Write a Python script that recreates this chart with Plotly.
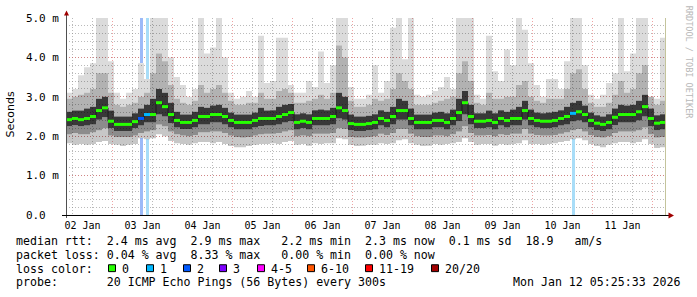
import pandas as pd
import plotly.graph_objects as go

# ---------------- data ----------------
START = "2026-01-02 05:25:33"
END = "2026-01-12 05:25:33"
BIN_SECONDS = 8640  # 100 bins of 2.4 h

median_ms = [2.42, 2.45, 2.42, 2.45, 2.50, 2.65, 2.72, 2.38, 2.30, 2.30,
             2.30, 2.37, 2.45, 2.55, 2.55, 2.85, 2.75, 2.55, 2.40, 2.35,
             2.35, 2.40, 2.50, 2.50, 2.55, 2.55, 2.50, 2.40, 2.35, 2.35,
             2.35, 2.40, 2.45, 2.45, 2.45, 2.50, 2.55, 2.60, 2.35, 2.38,
             2.35, 2.45, 2.45, 2.45, 2.50, 2.72, 2.65, 2.32, 2.30, 2.30,
             2.32, 2.35, 2.45, 2.40, 2.50, 2.65, 2.65, 2.45, 2.35, 2.35,
             2.35, 2.40, 2.40, 2.35, 2.45, 2.60, 2.85, 2.50, 2.38, 2.38,
             2.40, 2.35, 2.45, 2.40, 2.45, 2.45, 2.65, 2.45, 2.40, 2.38,
             2.38, 2.40, 2.45, 2.50, 2.58, 2.62, 2.55, 2.40, 2.33, 2.30,
             2.35, 2.48, 2.55, 2.55, 2.55, 2.62, 2.75, 2.45, 2.33, 2.35]

smoke_max_ms = [3.10, 3.20, 3.55, 3.75, 3.85, 5.00, 5.00, 3.90, 3.10, 2.95,
                3.10, 3.20, 3.85, 3.45, 5.00, 5.00, 5.00, 4.00, 3.50, 3.30,
                3.00, 3.20, 5.00, 4.10, 4.25, 5.00, 4.00, 3.10, 2.95, 3.00,
                3.15, 3.00, 4.55, 3.35, 3.40, 4.50, 4.50, 3.30, 3.10, 3.10,
                3.40, 3.25, 4.15, 3.35, 3.80, 5.00, 5.00, 3.25, 2.95, 2.95,
                3.05, 3.80, 3.10, 3.40, 4.75, 5.00, 3.95, 5.00, 3.05, 3.00,
                3.05, 3.15, 3.25, 3.50, 3.20, 5.00, 5.00, 5.00, 3.05, 2.95,
                4.55, 3.65, 3.40, 4.20, 3.80, 5.00, 4.70, 3.85, 3.30, 3.00,
                3.45, 3.45, 3.20, 3.90, 5.00, 5.00, 3.80, 3.05, 2.95, 3.05,
                3.35, 3.60, 5.00, 3.65, 4.10, 5.00, 5.00, 3.00, 2.95, 4.50]

p90_ms = [2.95, 3.00, 3.05, 3.10, 3.20, 3.60, 3.60, 3.10, 2.80, 2.75,
          2.80, 2.85, 3.00, 3.10, 3.60, 4.10, 3.90, 3.30, 2.95, 2.85,
          2.80, 2.90, 3.30, 3.10, 3.20, 3.30, 3.10, 2.90, 2.80, 2.80,
          2.85, 2.85, 3.10, 2.95, 2.95, 3.15, 3.20, 3.10, 2.85, 2.85,
          2.90, 2.95, 3.05, 2.95, 3.10, 4.30, 4.00, 2.90, 2.75, 2.75,
          2.80, 2.95, 2.90, 2.95, 3.20, 3.60, 3.40, 3.20, 2.80, 2.80,
          2.80, 2.85, 2.90, 2.95, 3.00, 3.60, 3.90, 3.40, 2.85, 2.80,
          3.10, 2.95, 2.95, 3.00, 3.00, 3.30, 3.40, 3.00, 2.90, 2.85,
          2.95, 2.95, 2.95, 3.20, 3.60, 3.70, 3.20, 2.85, 2.75, 2.75,
          2.85, 3.05, 3.40, 3.10, 3.20, 3.60, 3.80, 3.00, 2.80, 2.90]

p70_ms = [2.62, 2.65, 2.65, 2.70, 2.75, 2.95, 3.00, 2.65, 2.50, 2.50,
          2.50, 2.58, 2.70, 2.80, 2.95, 3.20, 3.10, 2.85, 2.62, 2.55,
          2.55, 2.62, 2.75, 2.72, 2.78, 2.80, 2.72, 2.60, 2.55, 2.55,
          2.55, 2.60, 2.72, 2.65, 2.66, 2.75, 2.80, 2.82, 2.56, 2.58,
          2.56, 2.66, 2.68, 2.66, 2.72, 3.10, 3.00, 2.55, 2.50, 2.50,
          2.52, 2.56, 2.66, 2.62, 2.75, 2.95, 2.90, 2.70, 2.55, 2.55,
          2.55, 2.60, 2.62, 2.58, 2.68, 2.95, 3.15, 2.80, 2.58, 2.58,
          2.65, 2.58, 2.66, 2.62, 2.68, 2.75, 2.90, 2.68, 2.60, 2.58,
          2.60, 2.62, 2.66, 2.75, 2.85, 2.90, 2.78, 2.60, 2.53, 2.50,
          2.56, 2.70, 2.80, 2.78, 2.80, 2.90, 3.05, 2.70, 2.53, 2.56]

p30_ms = [2.25, 2.28, 2.25, 2.27, 2.30, 2.42, 2.48, 2.20, 2.13, 2.13,
          2.13, 2.20, 2.27, 2.35, 2.35, 2.55, 2.50, 2.33, 2.22, 2.18,
          2.18, 2.22, 2.30, 2.30, 2.35, 2.35, 2.30, 2.22, 2.17, 2.17,
          2.17, 2.22, 2.26, 2.27, 2.27, 2.30, 2.35, 2.38, 2.17, 2.20,
          2.17, 2.27, 2.27, 2.27, 2.30, 2.45, 2.42, 2.15, 2.13, 2.13,
          2.15, 2.17, 2.27, 2.22, 2.30, 2.42, 2.42, 2.27, 2.17, 2.17,
          2.17, 2.22, 2.22, 2.17, 2.27, 2.38, 2.55, 2.30, 2.20, 2.20,
          2.22, 2.17, 2.27, 2.22, 2.27, 2.27, 2.42, 2.27, 2.22, 2.20,
          2.20, 2.22, 2.27, 2.30, 2.37, 2.40, 2.35, 2.22, 2.15, 2.13,
          2.17, 2.28, 2.35, 2.35, 2.35, 2.40, 2.50, 2.25, 2.15, 2.17]

p10_ms = [2.05, 2.08, 2.05, 2.05, 2.10, 2.15, 2.20, 2.02, 1.98, 1.98,
          1.98, 2.02, 2.08, 2.12, 2.15, 2.30, 2.25, 2.12, 2.05, 2.02,
          2.00, 2.03, 2.10, 2.10, 2.12, 2.12, 2.08, 2.02, 1.98, 1.97,
          1.98, 2.02, 2.05, 2.06, 2.06, 2.08, 2.12, 2.15, 2.00, 2.02,
          2.00, 2.06, 2.06, 2.06, 2.08, 2.20, 2.18, 1.98, 1.97, 1.97,
          1.98, 2.00, 2.06, 2.03, 2.08, 2.18, 2.18, 2.06, 2.00, 1.98,
          1.98, 2.02, 2.02, 2.00, 2.05, 2.12, 2.25, 2.08, 2.02, 2.02,
          2.03, 2.00, 2.05, 2.03, 2.06, 2.06, 2.18, 2.06, 2.03, 2.02,
          2.02, 2.03, 2.06, 2.10, 2.15, 2.18, 2.12, 2.03, 1.98, 1.97,
          2.00, 2.08, 2.12, 2.12, 2.12, 2.15, 2.22, 2.05, 1.97, 1.98]

smoke_min_ms = [1.82, 1.78, 1.80, 1.78, 1.80, 1.85, 1.88, 1.80, 1.78, 1.75,
                1.78, 1.80, 1.95, 1.92, 1.95, 2.05, 2.00, 1.88, 1.82, 1.80,
                1.78, 1.82, 1.85, 1.85, 1.82, 1.85, 1.80, 1.75, 1.72, 1.72,
                1.75, 1.78, 1.80, 1.80, 1.82, 1.80, 1.85, 1.88, 1.78, 1.80,
                1.76, 1.82, 1.80, 1.82, 1.82, 1.95, 1.92, 1.78, 1.75, 1.76,
                1.78, 1.78, 1.82, 1.80, 1.82, 1.90, 1.92, 1.82, 1.78, 1.75,
                1.76, 1.80, 1.78, 1.80, 1.82, 1.85, 1.95, 1.85, 1.78, 1.80,
                1.80, 1.76, 1.80, 1.78, 1.80, 1.82, 1.90, 1.80, 1.80, 1.78,
                1.80, 1.82, 1.85, 1.88, 1.92, 1.95, 1.90, 1.80, 1.75, 1.72,
                1.78, 1.82, 1.85, 1.85, 1.82, 1.85, 1.92, 1.80, 1.70, 1.72]

loss_count = [0, 0, 0, 0, 0, 0, 0, 0, 0, 0,
              0, 0, 2, 1, 0, 0, 0, 0, 0, 0,
              0, 0, 0, 0, 0, 0, 0, 0, 0, 0,
              0, 0, 0, 0, 0, 0, 0, 0, 0, 0,
              0, 0, 0, 0, 0, 0, 0, 0, 0, 0,
              0, 0, 0, 0, 0, 0, 0, 0, 0, 0,
              0, 0, 0, 0, 0, 0, 0, 0, 0, 0,
              0, 0, 0, 0, 0, 0, 0, 0, 0, 0,
              0, 0, 0, 0, 1, 0, 0, 0, 0, 0,
              0, 0, 0, 0, 0, 0, 0, 0, 0, 0]

day_labels = ["02 Jan", "03 Jan", "04 Jan", "05 Jan", "06 Jan",
              "07 Jan", "08 Jan", "09 Jan", "10 Jan", "11 Jan"]
day_noons = ["2026-01-02 12:00", "2026-01-03 12:00", "2026-01-04 12:00", "2026-01-05 12:00",
             "2026-01-06 12:00", "2026-01-07 12:00", "2026-01-08 12:00", "2026-01-09 12:00",
             "2026-01-10 12:00", "2026-01-11 12:00"]
y_tick_vals = [0, 1, 2, 3, 4, 5]
y_tick_text = ["0.0  ", "1.0 m", "2.0 m", "3.0 m", "4.0 m", "5.0 m"]

loss_labels = ["0", "1", "2", "3", "4-5", "6-10", "11-19", "20/20"]
loss_colors = ["#26ff00", "#00b8ff", "#0059ff", "#7e00ff", "#ff00ff", "#ff5500", "#ff0000", "#a10000"]
loss_bar_colors = {1: "#a8ddf8", 2: "#9cbaf8"}

stats_line1 = "median rtt:  2.4 ms avg  2.9 ms max   2.2 ms min  2.3 ms now  0.1 ms sd  18.9   am/s"
stats_line2 = "packet loss: 0.04 % avg  8.33 % max   0.00 % min  0.00 % now"
probe_line = "probe:       20 ICMP Echo Pings (56 Bytes) every 300s"
stamp_text = "Mon Jan 12 05:25:33 2026"
side_text = "RRDTOOL / TOBI OETIKER"

# ---------------- geometry helpers (pixels -> paper) ----------------
PL, PT, PW, PH = 66, 15, 600, 200
def px(x):
    return (x - PL) / PW
def py(y):
    return (PT + PH - y) / PH
def nb(s):
    return s.replace(" ", "\u00a0")

MONO = "DejaVu Sans Mono"
edges = pd.date_range(START, periods=len(median_ms) + 1, freq=f"{BIN_SECONDS}s")
centers = edges[:-1] + pd.Timedelta(seconds=BIN_SECONDS / 2)
Y_TOP = y_tick_vals[-1]

def step(vals):
    return list(vals) + [vals[-1]]

fig = go.Figure()

# loss bars (drawn outside the smoke)
bx, blo, bhi_base, bhi_h, bcol = [], [], [], [], []
for i, n in enumerate(loss_count):
    if n > 0:
        bx.append(centers[i])
        blo.append(smoke_min_ms[i])
        bhi_base.append(smoke_max_ms[i])
        bhi_h.append(Y_TOP - smoke_max_ms[i])
        bcol.append(loss_bar_colors.get(n, loss_colors[min(n, 7)]))
bar_w = 72 * 60 * 1000
fig.add_trace(go.Bar(x=bx, y=blo, base=0, width=bar_w, marker=dict(color=bcol, line=dict(width=0)),
                     showlegend=False, hoverinfo="skip"))
fig.add_trace(go.Bar(x=bx, y=bhi_h, base=bhi_base, width=bar_w, marker=dict(color=bcol, line=dict(width=0)),
                     showlegend=False, hoverinfo="skip"))

# smoke bands
bounds = [smoke_min_ms, p10_ms, p30_ms, p70_ms, p90_ms, smoke_max_ms]
alphas = [0.22, 0.45, 0.78, 0.30, 0.14]
fig.add_trace(go.Scatter(x=edges, y=step(bounds[0]), mode="lines", line=dict(width=0, shape="hv"),
                         showlegend=False, hoverinfo="skip"))
for b, a in zip(bounds[1:], alphas):
    fig.add_trace(go.Scatter(x=edges, y=step(b), mode="lines", line=dict(width=0, shape="hv"),
                             fill="tonexty", fillcolor=f"rgba(0,0,0,{a})",
                             showlegend=False, hoverinfo="skip"))

# median: dark step connector + loss-coloured segments
fig.add_trace(go.Scatter(x=edges, y=step(median_ms), mode="lines",
                         line=dict(width=1, shape="hv", color="#1a1a1a"),
                         showlegend=False, hoverinfo="skip"))
def loss_idx(n):
    if n <= 3:
        return n
    if n <= 5:
        return 4
    if n <= 10:
        return 5
    if n <= 19:
        return 6
    return 7
seg = {}
for i, m in enumerate(median_ms):
    k = loss_idx(loss_count[i])
    xs, ys = seg.setdefault(k, ([], []))
    xs += [edges[i], edges[i + 1], None]
    ys += [m, m, None]
for k, (xs, ys) in seg.items():
    fig.add_trace(go.Scatter(x=xs, y=ys, mode="lines", line=dict(width=3, color=loss_colors[k]),
                             showlegend=False, hoverinfo="skip", connectgaps=False))

# dummy for label axis
fig.add_trace(go.Scatter(x=[edges[0]], y=[0], xaxis="x2", mode="markers",
                         marker=dict(opacity=0, size=1), showlegend=False, hoverinfo="skip"))

GRID = "rgba(140,140,140,0.6)"
MGRID = "rgba(225,90,90,0.55)"
DASH = "1px,2px"

fig.update_layout(
    width=697, height=297,
    margin=dict(l=PL, r=697 - PL - PW, t=PT, b=297 - PT - PH),
    paper_bgcolor="white", plot_bgcolor="white",
    barmode="overlay", bargap=0,
    xaxis=dict(type="date", range=[START, END], tickmode="linear", tick0="2026-01-03",
               dtick=86400000, showticklabels=False, ticks="", showgrid=True,
               gridcolor=MGRID, griddash=DASH, gridwidth=1, zeroline=False, showline=False,
               minor=dict(tick0="2026-01-02 08:00", dtick=8 * 3600000, showgrid=True,
                          gridcolor=GRID, griddash=DASH, gridwidth=1)),
    xaxis2=dict(type="date", overlaying="x", matches="x", anchor="y", side="bottom",
                tickmode="array", tickvals=day_noons, ticktext=day_labels, showgrid=False,
                ticks="", zeroline=False, showline=False, ticklabelstandoff=3,
                tickfont=dict(family=MONO, size=10, color="black")),
    yaxis=dict(range=[0, Y_TOP], tickmode="array", tickvals=y_tick_vals,
               ticktext=[nb(t) for t in y_tick_text], showgrid=True, gridcolor=MGRID,
               griddash=DASH, gridwidth=1, zeroline=False, showline=False, ticks="",
               ticklabelstandoff=6, tickfont=dict(family=MONO, size=11, color="black"),
               minor=dict(tick0=0, dtick=0.2, showgrid=True, gridcolor=GRID, griddash=DASH,
                          gridwidth=1)),
    showlegend=False,
)

shapes = []
# axes, arrows and right marker
shapes.append(dict(type="line", xref="paper", yref="paper", x0=px(66.5), x1=px(66.5),
                   y0=py(218), y1=py(10), line=dict(color="#505050", width=1), layer="above"))
shapes.append(dict(type="line", xref="paper", yref="paper", x0=px(62), x1=px(669),
                   y0=py(215.5), y1=py(215.5), line=dict(color="#000000", width=1), layer="above"))
shapes.append(dict(type="path", xref="paper", yref="paper",
                   path=f"M {px(64)},{py(12.5)} L {px(69)},{py(12.5)} L {px(66.5)},{py(7.5)} Z",
                   fillcolor="#a00000", line=dict(width=0), layer="above"))
shapes.append(dict(type="path", xref="paper", yref="paper",
                   path=f"M {px(668.5)},{py(212.5)} L {px(668.5)},{py(218.5)} L {px(674)},{py(215.5)} Z",
                   fillcolor="#a00000", line=dict(width=0), layer="above"))
shapes.append(dict(type="line", xref="paper", yref="paper", x0=px(665.5), x1=px(665.5),
                   y0=py(15), y1=py(215), line=dict(color="#c4c49c", width=1), layer="above"))

# loss colour legend squares
sq_x = [108, 146, 183, 219, 257, 307, 365, 431]
for xx, c in zip(sq_x, loss_colors):
    shapes.append(dict(type="rect", xref="paper", yref="paper", x0=px(xx + 0.5), x1=px(xx + 7.5),
                       y0=py(272.5), y1=py(265.5), fillcolor=c, line=dict(color="black", width=1)))
fig.update_layout(shapes=shapes)

ann = []
def text(x, y, s, size=11.6, anchor="left", family=MONO, color="black", angle=0):
    ann.append(dict(x=px(x), y=py(y), xref="paper", yref="paper", text=nb(s), showarrow=False,
                    xanchor=anchor, yanchor="middle", textangle=angle, borderpad=0, borderwidth=0,
                    font=dict(family=family, size=size, color=color)))

text(16, 241.5, stats_line1)
text(16, 255.5, stats_line2)
text(16, 269.5, "loss color:")
for xx, lab in zip(sq_x, loss_labels):
    text(xx + 14, 269.5, lab)
text(16, 283.5, probe_line)
text(681, 283.5, stamp_text, anchor="right")
ann.append(dict(x=px(11), y=py(113), xref="paper", yref="paper", text="Seconds", showarrow=False,
                xanchor="center", yanchor="middle", textangle=-90,
                font=dict(family="DejaVu Sans", size=11, color="black")))
ann.append(dict(x=px(688.5), y=py(60), xref="paper", yref="paper", text=nb(side_text), showarrow=False,
                xanchor="center", yanchor="middle", textangle=90,
                font=dict(family=MONO, size=8.5, color="#b8b8b8")))
fig.update_layout(annotations=ann)

fig.write_html("out.html")
